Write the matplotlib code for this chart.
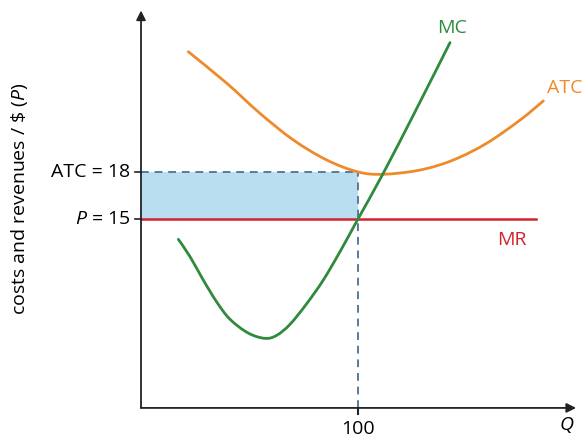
import matplotlib
matplotlib.use("Agg")
import matplotlib.pyplot as plt
from matplotlib.path import Path
from matplotlib.patches import PathPatch

plt.rcParams['font.family'] = ['Open Sans', 'DejaVu Sans']
plt.rcParams['mathtext.fontset'] = 'custom'
plt.rcParams['mathtext.it'] = 'Open Sans:italic'
plt.rcParams['mathtext.rm'] = 'Open Sans'

# Data
mc_q = [17.2, 22.6, 28.7, 34.9, 41.0, 49.4, 57.1, 62.5, 68.7, 76.4, 84.0, 91.7, 100.0, 111.7, 126.7, 142.4]
mc_p = [13.70, 12.59, 11.10, 9.70, 8.60, 7.72, 7.38, 7.57, 8.28, 9.60, 11.10, 12.91, 15.0, 17.93, 21.95, 26.25]

atc_q = [21.8, 39.5, 54.8, 70.2, 85.6, 100.0, 111.7, 128.6, 143.9, 159.3, 174.7, 185.4]
atc_p = [25.67, 23.66, 21.74, 20.04, 18.76, 18.0, 17.85, 18.12, 18.76, 19.83, 21.31, 22.53]

mr_q = [0, 182]
price = 15
atc_at_q = 18
q_star = 100

c_mc = '#2f8a3c'
c_atc = '#ef8a2c'
c_mr = '#d2232e'
c_dash = '#5a7a99'
c_fill = '#b8deef'

fig = plt.figure(figsize=(5.86, 4.37), dpi=100)
ax = fig.add_axes([0, 0, 1, 1])
ax.set_xlim(-64.98, 205.07)
ax.set_ylim(1.085, 28.97)
ax.axis('off')


def smooth_path(xs, ys):
    """Smooth path through the points (Catmull-Rom as cubic Bezier segments)."""
    pts = list(zip(xs, ys))
    verts = [pts[0]]
    codes = [Path.MOVETO]
    n = len(pts)
    for i in range(n - 1):
        p0 = pts[i - 1] if i > 0 else pts[i]
        p1 = pts[i]
        p2 = pts[i + 1]
        p3 = pts[i + 2] if i + 2 < n else pts[i + 1]
        c1 = (p1[0] + (p2[0] - p0[0]) / 6, p1[1] + (p2[1] - p0[1]) / 6)
        c2 = (p2[0] - (p3[0] - p1[0]) / 6, p2[1] - (p3[1] - p1[1]) / 6)
        verts += [c1, c2, p2]
        codes += [Path.CURVE4] * 3
    return Path(verts, codes)


y0 = 2.94  # where the horizontal axis sits

# shaded area
ax.fill_between([0, q_star], price, atc_at_q, color=c_fill, lw=0, zorder=1)
# dashed guides
ax.plot([0, q_star], [atc_at_q, atc_at_q], ls=(0, (4, 3)), color=c_dash, lw=1.4, zorder=2)
ax.plot([q_star, q_star], [y0, atc_at_q], ls=(0, (4, 3)), color=c_dash, lw=1.4, zorder=2)

# curves
ax.plot(mr_q, [price, price], color=c_mr, lw=1.8, zorder=3)
ax.add_patch(PathPatch(smooth_path(atc_q, atc_p), fill=False, edgecolor=c_atc, lw=2.0,
                       capstyle='round', joinstyle='round', zorder=4))
ax.add_patch(PathPatch(smooth_path(mc_q, mc_p), fill=False, edgecolor=c_mc, lw=2.0,
                       capstyle='round', joinstyle='round', zorder=5))

# axes with arrows
ax.annotate('', xy=(0, 28.3), xytext=(0, y0),
            arrowprops=dict(arrowstyle='-|>', color='#222222', lw=1.3, mutation_scale=14, shrinkA=0, shrinkB=0), zorder=6)
ax.annotate('', xy=(200.5, y0), xytext=(0, y0),
            arrowprops=dict(arrowstyle='-|>', color='#222222', lw=1.3, mutation_scale=14, shrinkA=0, shrinkB=0), zorder=6)

# ticks
ax.plot([-2.8, 0], [atc_at_q, atc_at_q], color='#222222', lw=1.2, zorder=6)
ax.plot([-2.8, 0], [price, price], color='#222222', lw=1.2, zorder=6)
ax.plot([q_star, q_star], [y0, y0 - 0.4], color='#222222', lw=1.5, zorder=6)

fs = 14
ax.text(-5, atc_at_q, 'ATC = 18', ha='right', va='center', fontsize=fs)
ax.text(-5, price, '$P$ = 15', ha='right', va='center', fontsize=fs)
ax.text(q_star, 2.2, '100', ha='center', va='top', fontsize=fs)
ax.text(196.3, 1.85, '$Q$', ha='center', va='center', fontsize=fs)

ax.text(-55.8, 16.3, 'costs and revenues / \\$ ($P$)', rotation=90, ha='center', va='center', fontsize=14)

ax.text(143.3, 27.2, 'MC', color=c_mc, ha='center', va='center', fontsize=fs)
ax.text(195.5, 23.35, 'ATC', color=c_atc, ha='center', va='center', fontsize=fs)
ax.text(170.9, 13.65, 'MR', color=c_mr, ha='center', va='center', fontsize=fs)

fig.savefig('out.png', dpi=100)
